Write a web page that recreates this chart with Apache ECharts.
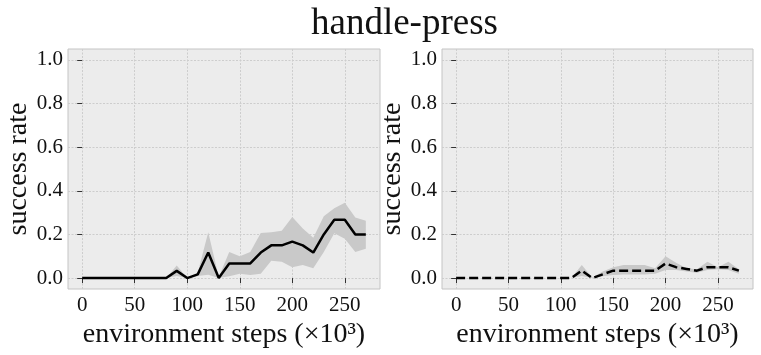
<!DOCTYPE html>
<html>
<head>
<meta charset="utf-8">
<script src="https://cdn.jsdelivr.net/npm/echarts@6/dist/echarts.min.js"></script>
<style>
  html, body { margin: 0; padding: 0; background: #fff; }
  #main { width: 761px; height: 355px; }
</style>
</head>
<body>
<div id="main"></div>
<script>
// steps (x10^3)
var steps = [0, 10, 20, 30, 40, 50, 60, 70, 80, 90, 100, 110, 120, 130, 140, 150, 160, 170, 180, 190, 200, 210, 220, 230, 240, 250, 260, 270];

// left panel: mean and band
var leftMean  = [0, 0, 0, 0, 0, 0, 0, 0, 0, 0.033, 0, 0.017, 0.117, 0, 0.067, 0.067, 0.067, 0.117, 0.15, 0.15, 0.167, 0.15, 0.117, 0.2, 0.267, 0.267, 0.2, 0.2];
var leftLow   = [0, 0, 0, 0, 0, 0, 0, 0, 0, 0.01, 0, 0.01, 0.015, 0, 0.008, 0.02, 0.014, 0.02, 0.08, 0.075, 0.05, 0.06, 0.045, 0.12, 0.205, 0.18, 0.12, 0.135];
var leftHigh  = [0, 0, 0, 0, 0, 0, 0, 0, 0, 0.058, 0, 0.025, 0.21, 0.005, 0.12, 0.1, 0.12, 0.207, 0.21, 0.217, 0.28, 0.227, 0.185, 0.284, 0.32, 0.345, 0.278, 0.263];

// right panel: mean and band
var rightMean = [0, 0, 0, 0, 0, 0, 0, 0, 0, 0, 0, 0, 0.034, 0, 0.017, 0.034, 0.034, 0.034, 0.034, 0.034, 0.067, 0.05, 0.042, 0.034, 0.05, 0.05, 0.05, 0.034];
var rightLow  = [0, 0, 0, 0, 0, 0, 0, 0, 0, 0, 0, 0, 0.01, 0, 0.008, 0.014, 0.017, 0.017, 0.017, 0.02, 0.037, 0.037, 0.03, 0.025, 0.037, 0.04, 0.037, 0.02];
var rightHigh = [0, 0, 0, 0, 0, 0, 0, 0, 0, 0, 0, 0, 0.06, 0.003, 0.03, 0.05, 0.06, 0.06, 0.06, 0.045, 0.1, 0.07, 0.045, 0.04, 0.075, 0.05, 0.075, 0.04];

var xTicks = [0, 50, 100, 150, 200, 250];
var yTicks = [0, 0.2, 0.4, 0.6, 0.8, 1.0];

var FONT = '"Liberation Serif", "DejaVu Serif", serif';

function pairs(xs, ys) {
    return xs.map(function (x, i) { return [x, ys[i]]; });
}

function xAx(idx) {
    return {
        gridIndex: idx,
        type: 'value',
        min: -13.5,
        max: 283.5,
        name: 'environment steps (×10³)',
        nameLocation: 'middle',
        nameGap: 23,
        nameTextStyle: { fontFamily: FONT, fontSize: 28, color: '#111' },
        axisLine: { show: false },
        axisTick: { show: true, customValues: xTicks, length: 5, lineStyle: { color: '#333' } },
        axisLabel: { customValues: xTicks, fontFamily: FONT, fontSize: 21, color: '#111', margin: 6 },
        splitLine: { show: true, lineStyle: { color: '#cdcdcd', type: [2, 1.5], width: 1 } }
    };
}
function yAx(idx) {
    return {
        gridIndex: idx,
        type: 'value',
        min: -0.05,
        max: 1.05,
        name: 'success rate',
        nameLocation: 'middle',
        nameGap: 26,
        nameTextStyle: { fontFamily: FONT, fontSize: 28, color: '#111' },
        axisLine: { show: false },
        axisTick: { show: true, customValues: yTicks, length: 5, lineStyle: { color: '#333' } },
        axisLabel: {
            customValues: yTicks, fontFamily: FONT, fontSize: 21, color: '#111', margin: 5,
            formatter: function (v) { return v.toFixed(1); }
        },
        splitLine: { show: true, lineStyle: { color: '#cdcdcd', type: [2, 1.5], width: 1 } }
    };
}

// shaded band drawn as one polygon through the axis scales
function band(idx, low, high) {
    return {
        type: 'custom', xAxisIndex: idx, yAxisIndex: idx, silent: true, z: 1,
        data: steps.map(function (x, i) { return [x, low[i], high[i]]; }),
        encode: { x: 0, y: [1, 2] },
        renderItem: function (params, api) {
            if (params.dataIndex !== 0) return;
            var pts = [];
            for (var i = 0; i < steps.length; i++) pts.push(api.coord([steps[i], high[i]]));
            for (var j = steps.length - 1; j >= 0; j--) pts.push(api.coord([steps[j], low[j]]));
            return { type: 'polygon', shape: { points: pts }, style: { fill: '#c9c9c9' } };
        }
    };
}

var myChart = echarts.init(document.getElementById('main'));

var option = {
    animation: false,
    backgroundColor: '#ffffff',
    title: {
        text: 'handle-press',
        left: 311,
        top: 6,
        padding: 0,
        textStyle: { fontFamily: FONT, fontSize: 37, fontWeight: 'normal', color: '#111' }
    },
    grid: [
        { left: 68, right: 381, top: 49, height: 240, show: true, backgroundColor: '#ececec', borderColor: '#c4c4c4', borderWidth: 1 },
        { left: 442, right: 8, top: 49, height: 240, show: true, backgroundColor: '#ececec', borderColor: '#c4c4c4', borderWidth: 1 }
    ],
    xAxis: [xAx(0), xAx(1)],
    yAxis: [yAx(0), yAx(1)],
    series: [
        band(0, leftLow, leftHigh),
        band(1, rightLow, rightHigh),
        {
            name: 'left', type: 'line', xAxisIndex: 0, yAxisIndex: 0,
            data: pairs(steps, leftMean), symbol: 'none', z: 3,
            lineStyle: { color: '#000', width: 2.5 }
        }, {
            name: 'right', type: 'line', xAxisIndex: 1, yAxisIndex: 1,
            data: pairs(steps, rightMean), symbol: 'none', z: 3,
            lineStyle: { color: '#000', width: 2.5, type: [9, 4] }
        }
    ]
};

myChart.setOption(option);
</script>
</body>
</html>
